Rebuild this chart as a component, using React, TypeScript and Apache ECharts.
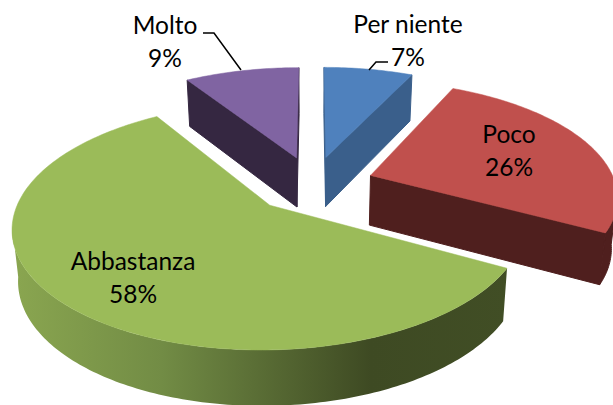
import React, { useEffect, useRef } from "react";
import * as echarts from "echarts";

const categories = ["Per niente", "Poco", "Abbastanza", "Molto"];
const values = [7, 26, 58, 9];
const topColors = ["#4F81BD", "#C0504D", "#9BBB59", "#8064A2"];
const cutColors = ["#3A5F8B", "#4F1F1E", "#3F4B24", "#352741"];

// Projection of the pie's plane on the page (layout, not data)
const CX = 313, CY = 184, RX = 245, RY = 113, PERSP = 0.165, EXPLODE = 0.25;
const DEPTH = 50, DEPTH_RX = 0.98, DEPTH_RY = 4;

function project(u: number, v: number, low: number): number[] {
  const w = 1 + PERSP * v;
  const rx = RX * (low ? DEPTH_RX : 1);
  const ry = RY + (low ? DEPTH_RY : 0);
  return [CX + (rx * u) / w, CY + (low ? DEPTH : 0) - (ry * v) / w];
}

function sliceGeometry(index: number) {
  const total = values.reduce((a, b) => a + b, 0);
  const before = values.slice(0, index).reduce((a, b) => a + b, 0);
  const a0 = (before / total) * 2 * Math.PI;
  const a1 = ((before + values[index]) / total) * 2 * Math.PI;
  const mid = (a0 + a1) / 2;
  return { a0, a1, u0: EXPLODE * Math.sin(mid), v0: EXPLODE * Math.cos(mid) };
}

function arc(g: any, from: number, to: number, low: number): number[][] {
  const n = Math.max(2, Math.ceil(((to - from) * 180) / Math.PI));
  const pts: number[][] = [];
  for (let i = 0; i <= n; i++) {
    const t = from + ((to - from) * i) / n;
    pts.push(project(g.u0 + Math.sin(t), g.v0 + Math.cos(t), low));
  }
  return pts;
}

function renderSlice(params: any) {
  const i = params.dataIndex;
  const g = sliceGeometry(i);
  const apex = project(g.u0, g.v0, 0);
  const apexLow = project(g.u0, g.v0, 1);
  const top = arc(g, g.a0, g.a1, 0);
  const children: any[] = [];
  const inner = top[Math.floor(top.length / 2)];

  const wallFrom = Math.max(g.a0, Math.acos(-PERSP));
  const wallTo = Math.min(g.a1, 2 * Math.PI - Math.acos(-PERSP));
  if (wallTo > wallFrom) {
    const hi = arc(g, wallFrom, wallTo, 0);
    const lo = arc(g, wallFrom, wallTo, 1).reverse();
    const isLarge = values[i] > 50;
    children.push({
      type: "polygon",
      shape: { points: hi.concat(lo) },
      style: isLarge
        ? {
            fill: new echarts.graphic.LinearGradient(
              12, 0, 510, 0,
              [
                { offset: 0, color: "#8AA650" },
                { offset: 0.3, color: "#728C45" },
                { offset: 0.72, color: "#3E4A23" },
                { offset: 1, color: "#414E25" },
              ],
              true
            ),
          }
        : { fill: cutColors[i], stroke: cutColors[i], lineWidth: 1 },
    });
  }

  [top[0], top[top.length - 1]].forEach((p, k) => {
    const side = (q: number[]) =>
      (p[0] - apex[0]) * (q[1] - apex[1]) - (p[1] - apex[1]) * (q[0] - apex[0]);
    if (side(inner) * side([apex[0], apex[1] + 10]) < 0) {
      const a = k === 0 ? g.a0 : g.a1;
      const low = project(g.u0 + Math.sin(a), g.v0 + Math.cos(a), 1);
      children.push({
        type: "polygon",
        shape: { points: [apex, p, low, apexLow] },
        style: { fill: cutColors[i], stroke: cutColors[i], lineWidth: 1 },
      });
    }
  });

  children.push({
    type: "polygon",
    shape: { points: [apex, ...top] },
    style: { fill: topColors[i], stroke: topColors[i], lineWidth: 0.5 },
  });
  return { type: "group", children };
}

const labelFont = { fontFamily: "Lato", fontSize: 24.5, fill: "#000", textAlign: "center", textVerticalAlign: "middle" };
const labelAnchors = [
  [408, 40],
  [509, 150],
  [133, 277],
  [165, 41],
];

export default function App() {
  const ref = useRef<HTMLDivElement>(null);
  useEffect(() => {
    const chart = echarts.init(ref.current!, null, { renderer: "svg" });
    chart.setOption({
      animation: false,
      backgroundColor: "#fff",
      series: [
        {
          type: "custom",
          coordinateSystem: "none",
          silent: true,
          clip: false,
          data: values,
          renderItem: renderSlice,
        },
      ],
      graphic: [
        {
          type: "polyline",
          z: 10,
          shape: { points: [[203, 33], [214, 33], [241, 70]] },
          style: { stroke: "#000", lineWidth: 1.5, fill: "none" },
        },
        {
          type: "polyline",
          z: 10,
          shape: { points: [[388, 62], [376, 62], [369, 70]] },
          style: { stroke: "#000", lineWidth: 1.5, fill: "none" },
        },
        ...categories.map((c, i) => ({
          type: "text",
          z: 11,
          x: labelAnchors[i][0],
          y: labelAnchors[i][1],
          style: { ...labelFont, text: `${c}\n${values[i]}%`, lineHeight: 33 },
        })),
      ],
    });
    return () => chart.dispose();
  }, []);
  return <div ref={ref} style={{ position: "absolute", left: 0, top: 0, width: 613, height: 405 }} />;
}
